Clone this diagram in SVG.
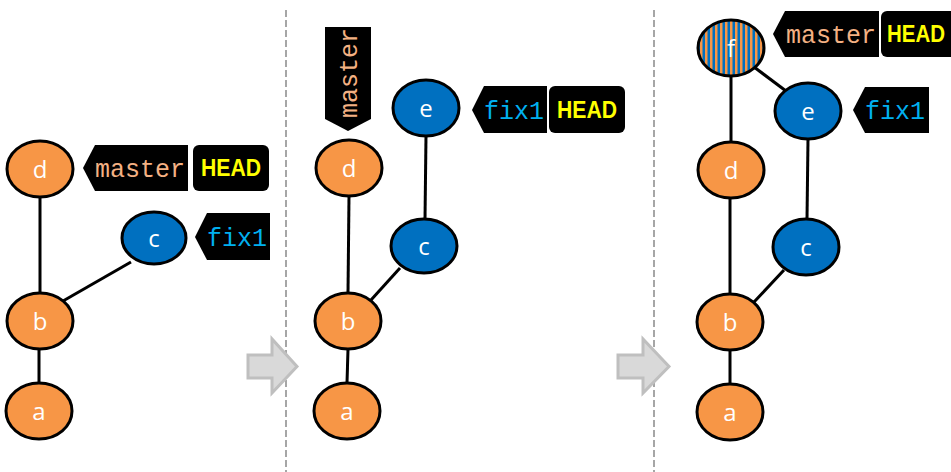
<svg xmlns="http://www.w3.org/2000/svg" width="951" height="472" viewBox="0 0 951 472">
  <style>
    .o { fill: #F79646; stroke: #000; stroke-width: 3; }
    .b { fill: #0070C0; stroke: #000; stroke-width: 3; }
    .f { fill: url(#stripes); stroke: #000; stroke-width: 3; }
    .lbl { fill: #fff; font-family: "Open Sans", "Liberation Sans", sans-serif; font-size: 24px; text-anchor: middle; }
    .edge { stroke: #000; stroke-width: 3; fill: none; }
    .tag { fill: #000; }
    .mono { font-family: "Liberation Mono", "DejaVu Sans Mono", monospace; font-size: 25px; text-anchor: middle; }
    .master { fill: #F4B183; }
    .fix { fill: #00B0F0; }
    .head { fill: #FFFF00; font-family: "Liberation Sans", Arial, sans-serif; font-weight: bold; font-size: 23px; text-anchor: middle; }
    .sep { stroke: #A6A6A6; stroke-width: 2; stroke-dasharray: 7 3; }
    .arrow { fill: #D9D9D9; stroke: #BFBFBF; stroke-width: 3; stroke-linejoin: miter; }
  </style>
  <defs>
    <pattern id="stripes" patternUnits="userSpaceOnUse" x="0" y="0" width="5" height="10">
      <rect x="0" y="0" width="5" height="10" fill="#F79646"/>
      <rect x="2.5" y="0" width="2.5" height="10" fill="#0070C0"/>
    </pattern>
  </defs>

  <!-- separators -->
  <g id="separators">
    <line class="sep" x1="286" y1="10" x2="286" y2="472"/>
    <line class="sep" x1="654" y1="10" x2="654" y2="472"/>
  </g>

  <!-- transition arrows -->
  <g id="arrow1">
    <polygon class="arrow" points="248,355 272,355 272,339 297,366.5 272,393 272,378 248,378"/>
  </g>
  <g id="arrow2">
    <polygon class="arrow" points="618,355 643,355 643,339 669,366.5 643,393 643,378 618,378"/>
  </g>

  <!-- connectors -->
  <g id="connectors">
    <!-- panel 1 -->
    <line class="edge" x1="40" y1="198" x2="40" y2="293"/>
    <line class="edge" x1="63" y1="301" x2="131" y2="262"/>
    <line class="edge" x1="39" y1="349" x2="39" y2="383"/>
    <!-- panel 2 -->
    <line class="edge" x1="349" y1="196" x2="348" y2="293"/>
    <line class="edge" x1="371" y1="300" x2="400" y2="268"/>
    <line class="edge" x1="348" y1="349" x2="347" y2="383"/>
    <line class="edge" x1="426" y1="136" x2="425" y2="219"/>
    <!-- panel 3 -->
    <line class="edge" x1="731" y1="76" x2="731" y2="142"/>
    <line class="edge" x1="754" y1="67" x2="786" y2="91"/>
    <line class="edge" x1="808" y1="139" x2="807" y2="219"/>
    <line class="edge" x1="730" y1="198" x2="730" y2="294"/>
    <line class="edge" x1="754" y1="302" x2="784" y2="270"/>
    <line class="edge" x1="730" y1="350" x2="730" y2="384"/>
  </g>

  <!-- panel 1 nodes -->
  <g id="p1-d"><ellipse class="o" cx="40" cy="169" rx="33" ry="28"/><text class="lbl" x="40" y="178">d</text></g>
  <g id="p1-c"><ellipse class="b" cx="154" cy="238" rx="32" ry="26"/><text class="lbl" x="154" y="247">c</text></g>
  <g id="p1-b"><ellipse class="o" cx="40" cy="321" rx="33" ry="28"/><text class="lbl" x="40" y="330">b</text></g>
  <g id="p1-a"><ellipse class="o" cx="39" cy="411" rx="33" ry="28"/><text class="lbl" x="39" y="420">a</text></g>

  <!-- panel 1 tags -->
  <g id="p1-master"><polygon class="tag" points="83,168 95,145 188,145 188,191 95,191"/><text class="mono master" x="140" y="177">master</text></g>
  <g id="p1-head"><rect class="tag" x="193" y="145" width="76" height="46" rx="6"/><text class="head" x="231" y="176" textLength="60" lengthAdjust="spacingAndGlyphs">HEAD</text></g>
  <g id="p1-fix1"><polygon class="tag" points="195,237 207,213 270,213 270,260 207,260"/><text class="mono fix" x="237" y="246">fix1</text></g>

  <!-- panel 2 nodes -->
  <g id="p2-e"><ellipse class="b" cx="426" cy="108" rx="33" ry="28"/><text class="lbl" x="426" y="117">e</text></g>
  <g id="p2-d"><ellipse class="o" cx="349" cy="168" rx="33" ry="28"/><text class="lbl" x="349" y="177">d</text></g>
  <g id="p2-c"><ellipse class="b" cx="424" cy="246" rx="33" ry="27"/><text class="lbl" x="424" y="255">c</text></g>
  <g id="p2-b"><ellipse class="o" cx="348" cy="321" rx="33" ry="28"/><text class="lbl" x="348" y="330">b</text></g>
  <g id="p2-a"><ellipse class="o" cx="347" cy="411" rx="33" ry="28"/><text class="lbl" x="347" y="420">a</text></g>

  <!-- panel 2 tags -->
  <g id="p2-master"><polygon class="tag" points="325,27 371,27 371,119 348,131 325,119"/><text class="mono master" x="0" y="0" transform="translate(357,73) rotate(-90)">master</text></g>
  <g id="p2-fix1"><polygon class="tag" points="472,110 484,86 547,86 547,133 484,133"/><text class="mono fix" x="514" y="119">fix1</text></g>
  <g id="p2-head"><rect class="tag" x="549" y="86" width="76" height="47" rx="6"/><text class="head" x="587" y="118" textLength="60" lengthAdjust="spacingAndGlyphs">HEAD</text></g>

  <!-- panel 3 nodes -->
  <g id="p3-f"><ellipse class="f" cx="731" cy="48" rx="33" ry="28"/><text class="lbl" x="731" y="57">f</text></g>
  <g id="p3-e"><ellipse class="b" cx="808" cy="111" rx="33" ry="28"/><text class="lbl" x="808" y="120">e</text></g>
  <g id="p3-d"><ellipse class="o" cx="731" cy="170" rx="33" ry="28"/><text class="lbl" x="731" y="179">d</text></g>
  <g id="p3-c"><ellipse class="b" cx="806" cy="247" rx="33" ry="28"/><text class="lbl" x="806" y="256">c</text></g>
  <g id="p3-b"><ellipse class="o" cx="730" cy="322" rx="33" ry="28"/><text class="lbl" x="730" y="331">b</text></g>
  <g id="p3-a"><ellipse class="o" cx="730" cy="412" rx="33" ry="28"/><text class="lbl" x="730" y="421">a</text></g>

  <!-- panel 3 tags -->
  <g id="p3-master"><polygon class="tag" points="773,34 785,11 879,11 879,57 785,57"/><text class="mono master" x="831" y="43">master</text></g>
  <g id="p3-head"><rect class="tag" x="881" y="11" width="76" height="46" rx="6"/><text class="head" x="916" y="42" textLength="58" lengthAdjust="spacingAndGlyphs">HEAD</text></g>
  <g id="p3-fix1"><polygon class="tag" points="853,110 865,87 929,87 929,133 865,133"/><text class="mono fix" x="895" y="119">fix1</text></g>
</svg>
